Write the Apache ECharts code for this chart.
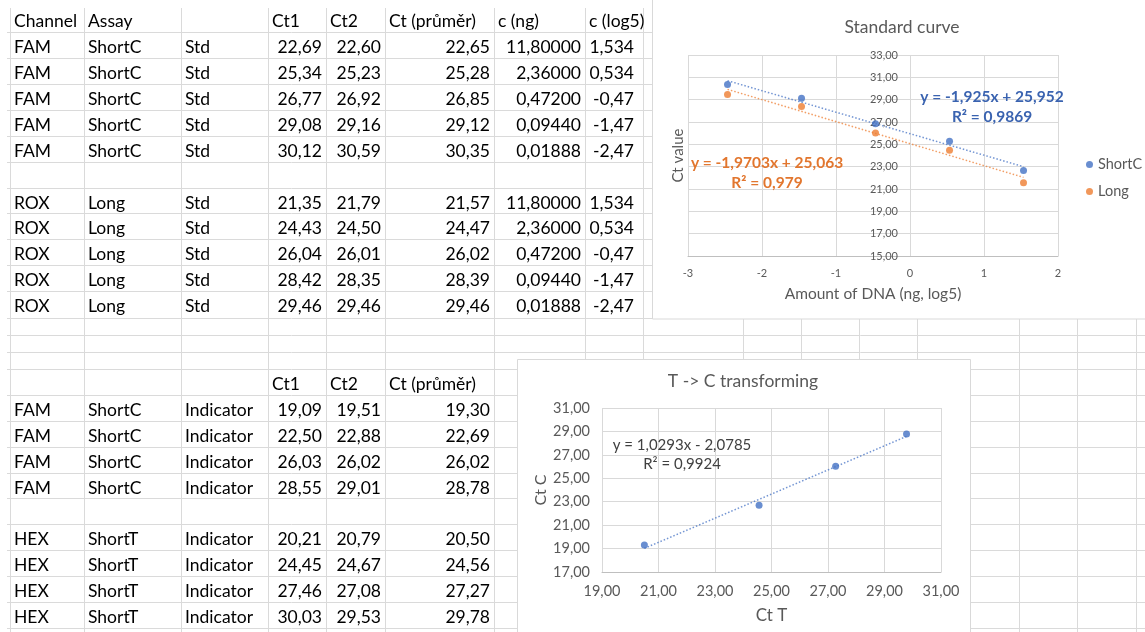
<!DOCTYPE html>
<html><head><meta charset="utf-8">
<script src="https://cdn.jsdelivr.net/npm/echarts@6/dist/echarts.min.js"></script>
<style>html,body{margin:0;padding:0;background:#fff;overflow:hidden}#c{width:1145px;height:632px}</style>
</head><body><div id="c"></div>
<script>
// ---------------- data ----------------
const stdHeaders = ['Channel', 'Assay', '', 'Ct1', 'Ct2', 'Ct (průměr)', 'c (ng)', 'c (log5)'];
const indHeaders = ['', '', '', 'Ct1', 'Ct2', 'Ct (průměr)'];
const shortCCt1 = [22.69, 25.34, 26.77, 29.08, 30.12];
const shortCCt2 = [22.60, 25.23, 26.92, 29.16, 30.59];
const shortCCtMean = [22.65, 25.28, 26.85, 29.12, 30.35];
const longCt1 = [21.35, 24.43, 26.04, 28.42, 29.46];
const longCt2 = [21.79, 24.50, 26.01, 28.35, 29.46];
const longCtMean = [21.57, 24.47, 26.02, 28.39, 29.46];
const stdConcNg = [11.8, 2.36, 0.472, 0.0944, 0.01888];
const stdConcLog5 = [1.534, 0.534, -0.466, -1.466, -2.466];
const indCCt1 = [19.09, 22.50, 26.03, 28.55];
const indCCt2 = [19.51, 22.88, 26.02, 29.01];
const indCCtMean = [19.30, 22.69, 26.02, 28.78];
const indTCt1 = [20.21, 24.45, 27.46, 30.03];
const indTCt2 = [20.79, 24.67, 27.08, 29.53];
const indTCtMean = [20.50, 24.56, 27.27, 29.78];
const stdSeriesNames = ['ShortC', 'Long'];
const stdTrendSlope = [-1.925, -1.9703];
const stdTrendIntercept = [25.952, 25.063];
const stdTrendR2 = ['0,9869', '0,979'];
const tcTrendSlope = 1.0293, tcTrendIntercept = -2.0785, tcTrendR2 = '0,9924';
const stdXRange = [-3, 2, 1], stdYRange = [15, 33, 2];
const tcXRange = [19, 31, 2], tcYRange = [17, 31, 2];

// ---------------- helpers ----------------
const fmt = (v, d) => v.toFixed(d).replace('.', ',');
const fmtLog = v => (v < 0 ? fmt(v, 2) : fmt(v, 3));
const FONT = 'Lato, "Noto Sans", sans-serif';
const BLUE = '#4472C4', ORANGE = '#ED7D31', GREY = '#595959';

// sheet layout
const colX = [10, 84, 181, 268, 326, 385, 494, 585, 643, 743, 801, 859, 917, 1019, 1077, 1136];
const rowY = [6, 32, 58, 84, 110, 136, 162, 188, 213, 239, 265, 291, 318, 335, 352, 369, 395, 421, 447, 473, 498, 524, 550, 576, 602, 628];

const g = [];
rowY.forEach((y, i) => { if (i > 0) g.push({ type: 'line', z: -10, shape: { x1: 7, y1: y + 0.5, x2: 1145, y2: y + 0.5 }, style: { stroke: '#dadada', lineWidth: 1 } }); });
colX.forEach(x => g.push({ type: 'line', z: -10, shape: { x1: x + 0.5, y1: 8, x2: x + 0.5, y2: 632 }, style: { stroke: '#dadada', lineWidth: 1 } }));

function cell(r, c, text, align) {
  if (!text) return;
  const x = align === 'right' ? colX[c + 1] - (c === 7 ? 9 : 4) : colX[c] + 4;
  g.push({ type: 'text', z: -9, x: x, y: rowY[r] + 15.5,
    style: { text: text, font: '17.5px ' + FONT, fill: '#000', align: align || 'left', verticalAlign: 'middle' } });
}
stdHeaders.forEach((h, c) => cell(0, c, h));
function stdRows(r0, ch, assay, ct1, ct2, mean) {
  ct1.forEach((v, i) => {
    const r = r0 + i;
    cell(r, 0, ch); cell(r, 1, assay); cell(r, 2, 'Std');
    cell(r, 3, fmt(v, 2), 'right'); cell(r, 4, fmt(ct2[i], 2), 'right'); cell(r, 5, fmt(mean[i], 2), 'right');
    cell(r, 6, fmt(stdConcNg[i], 5), 'right'); cell(r, 7, fmtLog(stdConcLog5[i]), 'right');
  });
}
stdRows(1, 'FAM', 'ShortC', shortCCt1, shortCCt2, shortCCtMean);
stdRows(7, 'ROX', 'Long', longCt1, longCt2, longCtMean);
indHeaders.forEach((h, c) => cell(15, c, h));
function indRows(r0, ch, assay, ct1, ct2, mean) {
  ct1.forEach((v, i) => {
    const r = r0 + i;
    cell(r, 0, ch); cell(r, 1, assay); cell(r, 2, 'Indicator');
    cell(r, 3, fmt(v, 2), 'right'); cell(r, 4, fmt(ct2[i], 2), 'right'); cell(r, 5, fmt(mean[i], 2), 'right');
  });
}
indRows(16, 'FAM', 'ShortC', indCCt1, indCCt2, indCCtMean);
indRows(21, 'HEX', 'ShortT', indTCt1, indTCt2, indTCtMean);

// chart boxes
g.push({ type: 'rect', z: -5, shape: { x: 652.5, y: -5, width: 600, height: 324 }, style: { fill: '#fff', stroke: '#d9d9d9', lineWidth: 1 } });
g.push({ type: 'rect', z: -5, shape: { x: 517.5, y: 359.5, width: 453, height: 300 }, style: { fill: '#fff', stroke: '#d9d9d9', lineWidth: 1 } });

// chart titles & trendline labels
function txt(x, y, text, size, color, weight) {
  g.push({ type: 'text', z: 10, x: x, y: y,
    style: { text: text, font: (weight || 'normal') + ' ' + size + 'px ' + FONT, fill: color, align: 'center', verticalAlign: 'middle' } });
}
txt(902, 27, 'Standard curve', 17.5, GREY);
txt(743, 381, 'T -> C transforming', 17.5, GREY);
txt(992, 97, 'y = ' + fmt(stdTrendSlope[0], 3) + 'x + ' + fmt(stdTrendIntercept[0], 3), 15.5, '#3A63B0', 'bold');
txt(992, 117, 'R² = ' + stdTrendR2[0], 15.5, '#3A63B0', 'bold');
txt(767, 163, 'y = ' + fmt(stdTrendSlope[1], 4) + 'x + ' + fmt(stdTrendIntercept[1], 3), 15.5, '#E2762E', 'bold');
txt(767, 183, 'R² = ' + stdTrendR2[1], 15.5, '#E2762E', 'bold');
txt(682, 445, 'y = ' + fmt(tcTrendSlope, 4) + 'x - ' + fmt(-tcTrendIntercept, 4), 15, '#404040');
txt(682, 464, 'R² = ' + tcTrendR2, 15, '#404040');

// trendline endpoints from regression equation over data range
function trend(xs, k, b) {
  const lo = Math.min(...xs), hi = Math.max(...xs);
  return [[lo, k * lo + b], [hi, k * hi + b]];
}

const axisCommon = {
  axisTick: { show: false },
  splitLine: { show: true, lineStyle: { color: '#d9d9d9', width: 1 } },
};
const comma2 = v => fmt(v, 2);
const grid0 = { left: 688, top: 55, width: 370, height: 201 };
// vertical axis of the standard curve crosses the horizontal axis at x = 0
const yCrossOffset = -grid0.width * (0 - stdXRange[0]) / (stdXRange[1] - stdXRange[0]);

const option = {
  animation: false,
  backgroundColor: '#fff',
  graphic: { elements: g },
  grid: [
    grid0,
    { left: 602, top: 408, width: 339, height: 164 }
  ],
  legend: {
    data: stdSeriesNames, orient: 'vertical', left: 1081, top: 152, itemGap: 12,
    icon: 'circle', itemWidth: 7, itemHeight: 7,
    textStyle: { fontFamily: FONT, fontSize: 14.5, color: GREY }
  },
  xAxis: [
    Object.assign({ type: 'value', gridIndex: 0, min: stdXRange[0], max: stdXRange[1], interval: stdXRange[2],
      axisLine: { show: true, onZero: false, lineStyle: { color: '#bfbfbf' } },
      axisLabel: { color: GREY, fontFamily: FONT, fontSize: 11, margin: 12 },
      name: 'Amount of DNA (ng, log5)', nameLocation: 'middle', nameGap: 30,
      nameTextStyle: { color: GREY, fontFamily: FONT, fontSize: 15.5 } }, axisCommon),
    Object.assign({ type: 'value', gridIndex: 1, min: tcXRange[0], max: tcXRange[1], interval: tcXRange[2],
      axisLine: { show: true, onZero: false, lineStyle: { color: '#bfbfbf' } },
      axisLabel: { color: GREY, fontFamily: FONT, fontSize: 14.5, margin: 12, formatter: comma2 },
      name: 'Ct T', nameLocation: 'middle', nameGap: 35,
      nameTextStyle: { color: GREY, fontFamily: FONT, fontSize: 17 } }, axisCommon)
  ],
  yAxis: [
    Object.assign({ type: 'value', gridIndex: 0, min: stdYRange[0], max: stdYRange[1], interval: stdYRange[2],
      offset: yCrossOffset,
      axisLine: { show: false, onZero: false },
      axisLabel: { color: GREY, fontFamily: FONT, fontSize: 11, margin: 12, formatter: comma2 },
      name: 'Ct value', nameLocation: 'middle', nameGap: 224,
      nameTextStyle: { color: GREY, fontFamily: FONT, fontSize: 15 } }, axisCommon),
    Object.assign({ type: 'value', gridIndex: 1, min: tcYRange[0], max: tcYRange[1], interval: tcYRange[2],
      axisLine: { show: false },
      axisLabel: { color: GREY, fontFamily: FONT, fontSize: 14.5, margin: 12, formatter: comma2 },
      name: 'Ct C', nameLocation: 'middle', nameGap: 50,
      nameTextStyle: { color: GREY, fontFamily: FONT, fontSize: 16 } }, axisCommon)
  ],
  series: [
    { name: 'ShortC', type: 'scatter', xAxisIndex: 0, yAxisIndex: 0, symbolSize: 7, itemStyle: { color: BLUE }, z: 5,
      data: stdConcLog5.map((x, i) => [x, shortCCtMean[i]]) },
    { name: 'Long', type: 'scatter', xAxisIndex: 0, yAxisIndex: 0, symbolSize: 7, itemStyle: { color: ORANGE }, z: 5,
      data: stdConcLog5.map((x, i) => [x, longCtMean[i]]) },
    { name: 'ShortC trend', type: 'line', xAxisIndex: 0, yAxisIndex: 0, symbol: 'none', silent: true,
      lineStyle: { color: BLUE, width: 1.5, type: [1.5, 2], opacity: 0.75 },
      data: trend(stdConcLog5, stdTrendSlope[0], stdTrendIntercept[0]) },
    { name: 'Long trend', type: 'line', xAxisIndex: 0, yAxisIndex: 0, symbol: 'none', silent: true,
      lineStyle: { color: ORANGE, width: 1.5, type: [1.5, 2], opacity: 0.75 },
      data: trend(stdConcLog5, stdTrendSlope[1], stdTrendIntercept[1]) },
    { name: 'Ct C', type: 'scatter', xAxisIndex: 1, yAxisIndex: 1, symbolSize: 7, itemStyle: { color: BLUE }, z: 5,
      data: indTCtMean.map((x, i) => [x, indCCtMean[i]]) },
    { name: 'Ct C trend', type: 'line', xAxisIndex: 1, yAxisIndex: 1, symbol: 'none', silent: true,
      lineStyle: { color: BLUE, width: 1.5, type: [1.5, 2], opacity: 0.75 },
      data: trend(indTCtMean, tcTrendSlope, tcTrendIntercept) }
  ]
};
echarts.init(document.getElementById('c'), null, { renderer: 'canvas' }).setOption(option);
</script>
</body></html>
